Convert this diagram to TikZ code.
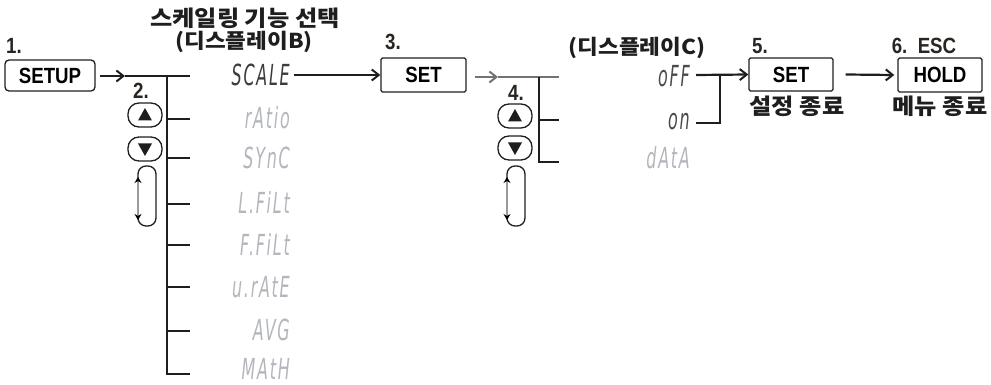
\documentclass[tikz,border=0pt]{standalone}
\usepackage{fontspec}
\usetikzlibrary{arrows.meta}
\newfontfamily\kr[FakeStretch=1.1]{Noto Sans CJK KR}
\newfontfamily\keyf[FakeStretch=0.85]{Liberation Sans}
\newfontfamily\segf[FakeStretch=0.55,LetterSpace=6]{DejaVu Sans}
\definecolor{segdark}{HTML}{3C3C3C}
\definecolor{seglight}{HTML}{B4B6BD}
\definecolor{segmid}{HTML}{4A4A4A}
\definecolor{numc}{HTML}{2A2520}
\definecolor{ink}{HTML}{1E1E1E}
\tikzset{
  keybox/.style={draw=ink, line width=1.3pt, minimum height=33pt, inner sep=0pt,
    font=\keyf\bfseries\fontsize{22}{22}\selectfont},
  numlbl/.style={font=\keyf\bfseries\fontsize{22}{22}\selectfont, text=numc, inner sep=0pt},
  kor/.style={font=\kr\bfseries\fontsize{22}{24}\selectfont, inner sep=0pt, text=ink},
  seg/.style={font=\segf\itshape\fontsize{29}{29}\selectfont, inner sep=0pt, anchor=base east},
  conn/.style={line width=2.2pt, draw=ink},
  arr/.style={conn, -{Straight Barb[length=7pt,width=11pt,line width=2pt]}},
  tickln/.style={line width=2pt, draw=ink},
  btn/.style={draw=ink, line width=1.3pt, rectangle, rounded corners=11pt,
    minimum width=34pt, minimum height=24pt, inner sep=0pt},
  loopicon/.pic={
    \draw[ink, line width=1.3pt, rounded corners=8pt]
      (0,16) -- (0,0) -- (18,0) -- (18,60) -- (0,60) -- (0,44);
    \draw[black!40, line width=2pt, {Stealth[black,length=6pt,width=7pt]}-{Stealth[black,length=6pt,width=7pt]}]
      (0,11) -- (0,54);
  }
}
\begin{document}
\begin{tikzpicture}[x=1pt,y=-1pt]
\useasboundingbox (0,0) rectangle (991,385);

% ---- step 1
\node[numlbl] (n1) at (14,46) {1.};
\node[keybox, rounded corners=4pt, minimum width=90pt, minimum height=31pt] (setup) at (50,75.5) {SETUP};

% ---- step 2 tree
\coordinate (a1s) at (100,76);
\coordinate (a1h) at (125,76);
\coordinate (b0) at (167,76);
\coordinate (t0) at (190,76);
\draw[arr] (a1s) -- (a1h);
\draw[conn, line width=2.6pt] (a1h) -- (t0);
\foreach \i/\y in {1/119,2/158,3/204,4/245,5/287,6/331,7/374}{
  \coordinate (v\i) at (167,\y);
  \coordinate (e\i) at (190,\y);
  \draw[tickln] (v\i) -- (e\i);
}
\draw[tickln] (b0) -- ([yshift=-1pt]v7);

\node[kor] (titleB) at (245,18) {스케일링 기능 선택};
\node[kor, font=\kr\bfseries\fontsize{20.5}{24}\selectfont] (dispB) at (244,42) {(디스플레이B)};
\node[numlbl, text=numc] (n2) at (141,91) {2.};

\node[seg, text=segdark] (scale) at (290,86) {SCALE};
\node[seg, text=seglight] (ratio) at (290,129) {rAtio};
\node[seg, text=seglight] (sync) at (290,168) {SYnC};
\node[seg, text=seglight] (lfilt) at (290,214) {L.FiLt};
\node[seg, text=seglight] (ffilt) at (290,255) {F.FiLt};
\node[seg, text=seglight] (urate) at (290,297) {u.rAtE};
\node[seg, text=seglight] (avg) at (290,340) {AVG};
\node[seg, text=seglight] (math) at (290,379) {MAtH};

\node[btn] (up2) at (145,115) {};
\fill[ink] ([yshift=7pt]up2.center) -- ([xshift=-7pt,yshift=-5.5pt]up2.center) -- ([xshift=7pt,yshift=-5.5pt]up2.center) -- cycle;
\node[btn] (dn2) at (145,149) {};
\fill[ink] ([yshift=-7pt]dn2.center) -- ([xshift=-7pt,yshift=5.5pt]dn2.center) -- ([xshift=7pt,yshift=5.5pt]dn2.center) -- cycle;
\pic at (138,166) {loopicon};

% ---- step 3
\node[numlbl] (n3) at (393,42) {3.};
\node[keybox, rounded corners=1.5pt, minimum width=85pt, minimum height=34pt] (set1) at (423.5,75) {SET};
\draw[arr] ([xshift=4pt]scale.east |- set1.west) -- (set1.west);

% ---- step 4 tree
\coordinate (a3s) at (475,77);
\coordinate (a3h) at (498,77);
\coordinate (c0) at (539,77);
\coordinate (c3) at (559,77);
\coordinate (c1) at (539,120);
\coordinate (d1) at (559,120);
\coordinate (c2) at (539,162);
\coordinate (d2) at (559,162);
\draw[arr, draw=black!55, line width=1.6pt] (a3s) -- (a3h);
\draw[draw=black!55, line width=1.6pt] (a3h) -- (c3);
\draw[tickln, line width=2.4pt] (c0) -- (c1) -- (d1);
\draw[tickln, line width=1.3pt] (c1) -- (c2) -- (d2);

\node[numlbl, text=numc] (n4) at (516,93) {4.};
\node[btn] (up4) at (515,116) {};
\fill[ink] ([yshift=7pt]up4.center) -- ([xshift=-7pt,yshift=-5.5pt]up4.center) -- ([xshift=7pt,yshift=-5.5pt]up4.center) -- cycle;
\node[btn] (dn4) at (515,148) {};
\fill[ink] ([yshift=-7pt]dn4.center) -- ([xshift=-7pt,yshift=5.5pt]dn4.center) -- ([xshift=7pt,yshift=5.5pt]dn4.center) -- cycle;
\pic at (507,166) {loopicon};

\node[kor, font=\kr\bfseries\fontsize{20.5}{24}\selectfont] (dispC) at (637,48) {(디스플레이C)};
\node[seg, text=segmid] (off) at (690,87) {oFF};
\node[seg, text=segmid] (on) at (690,130) {on};
\node[seg, text=seglight] (data) at (690,168) {dAtA};

% ---- step 5
\node[numlbl] (n5) at (760,46) {5.};
\node[keybox, rounded corners=1.5pt, minimum width=84pt, minimum height=33pt] (set2) at (791,74.5) {SET};
\node[kor] (end1) at (797,106) {설정 종료};
\coordinate (o1) at (696,75);
\coordinate (o2) at (720,75);
\coordinate (o3) at (720,123);
\coordinate (o4) at (696,123);
\draw[arr] (o1) -- (set2.west);
\draw[conn] (o2) -- (o3) -- (o4);

% ---- step 6
\node[numlbl] (n6) at (924,46) {6.\ \ ESC};
\node[keybox, rounded corners=1.5pt, minimum width=84pt, minimum height=34pt] (hold) at (940,75) {HOLD};
\node[kor] (end2) at (940,106) {메뉴 종료};
\draw[arr] ([xshift=12pt]set2.east) -- ([xshift=-3pt]hold.west);
\end{tikzpicture}
\end{document}
